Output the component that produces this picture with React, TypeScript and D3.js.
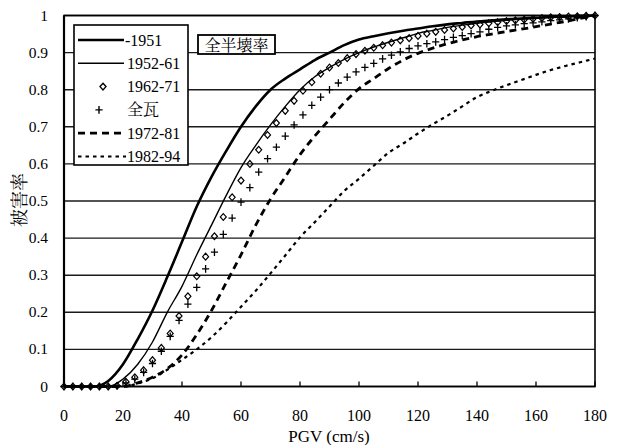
import React from "react";
import * as d3 from "d3";

// PGV sample grids (cm/s)
const pgvLine = d3.range(0, 181, 5);
const pgvMark = d3.range(0, 181, 3);

// damage ratio
const s1951 = [0, 0, 0, 0.015, 0.06, 0.128, 0.205, 0.295, 0.39, 0.485, 0.565, 0.635, 0.7, 0.755, 0.8, 0.83, 0.855, 0.88, 0.9, 0.92, 0.935, 0.944, 0.952, 0.959, 0.965, 0.971, 0.976, 0.98, 0.984, 0.987, 0.99, 0.992, 0.994, 0.996, 0.997, 0.999, 1];
const s1952 = [0, 0, 0, 0, 0.02, 0.06, 0.12, 0.2, 0.27, 0.355, 0.435, 0.515, 0.59, 0.65, 0.705, 0.755, 0.8, 0.835, 0.86, 0.882, 0.9, 0.915, 0.928, 0.94, 0.952, 0.96, 0.968, 0.974, 0.979, 0.983, 0.987, 0.99, 0.993, 0.995, 0.997, 0.999, 1];
const s1972 = [0, 0, 0, 0, 0, 0.01, 0.025, 0.048, 0.085, 0.14, 0.205, 0.28, 0.355, 0.435, 0.505, 0.565, 0.625, 0.675, 0.72, 0.765, 0.803, 0.83, 0.857, 0.88, 0.898, 0.912, 0.924, 0.934, 0.943, 0.95, 0.957, 0.963, 0.97, 0.977, 0.984, 0.992, 1];
const s1982 = [0, 0, 0, 0, 0, 0.008, 0.022, 0.045, 0.072, 0.1, 0.133, 0.172, 0.215, 0.258, 0.305, 0.353, 0.402, 0.443, 0.485, 0.527, 0.56, 0.595, 0.63, 0.655, 0.682, 0.707, 0.73, 0.755, 0.78, 0.797, 0.812, 0.826, 0.84, 0.853, 0.864, 0.874, 0.884];
const s1962 = [0, 0, 0, 0, 0, 0, 0.002, 0.013, 0.025, 0.044, 0.071, 0.104, 0.143, 0.19, 0.243, 0.297, 0.35, 0.405, 0.457, 0.51, 0.555, 0.6, 0.638, 0.678, 0.71, 0.743, 0.77, 0.797, 0.82, 0.843, 0.86, 0.872, 0.885, 0.896, 0.905, 0.913, 0.92, 0.927, 0.933, 0.939, 0.945, 0.951, 0.956, 0.961, 0.965, 0.969, 0.973, 0.976, 0.979, 0.982, 0.985, 0.987, 0.989, 0.991, 0.993, 0.995, 0.996, 0.997, 0.998, 0.999, 1];
const sAll = [0, 0, 0, 0, 0, 0, 0.002, 0.01, 0.02, 0.038, 0.062, 0.095, 0.135, 0.178, 0.222, 0.267, 0.317, 0.362, 0.41, 0.454, 0.497, 0.536, 0.578, 0.614, 0.645, 0.675, 0.705, 0.732, 0.758, 0.78, 0.8, 0.818, 0.834, 0.848, 0.86, 0.871, 0.883, 0.893, 0.902, 0.911, 0.918, 0.924, 0.929, 0.935, 0.941, 0.946, 0.951, 0.956, 0.963, 0.968, 0.972, 0.975, 0.978, 0.98, 0.983, 0.986, 0.988, 0.991, 0.994, 0.997, 1];

const xTicks = d3.range(0, 181, 20);
const yTicks = d3.range(0, 1.01, 0.1);
const legendLabels = ["-1951", "1952-61", "1962-71", "全瓦", "1972-81", "1982-94"];

const latin = { fontFamily: "\"Liberation Serif\"" };
const cjk = { fontFamily: "\"Noto Serif CJK JP\"" };

export default function App() {
  const W = 620, H = 445;
  const x = d3.scaleLinear().domain([0, 180]).range([64, 595]);
  const y = d3.scaleLinear().domain([0, 1]).range([386.5, 15.5]);

  const line = d3.line<number>()
    .x((_, i) => x(pgvLine[i]))
    .y(d => y(d))
    .curve(d3.curveMonotoneX);

  const lines = [
    { data: s1951, w: 2.6, dash: "" },
    { data: s1952, w: 1.4, dash: "" },
    { data: s1972, w: 2.8, dash: "7 5" },
    { data: s1982, w: 2.2, dash: "3.5 4" },
  ];

  const diamond = "M0,-3.4L3,0L0,3.4L-3,0Z";
  const plus = "M-3.6,0H3.6M0,-3.8V3.8";

  // legend: sample per row
  const legendRows = [
    { kind: "line", w: 2.6, dash: "" },
    { kind: "line", w: 1.4, dash: "" },
    { kind: "diamond" },
    { kind: "plus" },
    { kind: "line", w: 2.8, dash: "7 5" },
    { kind: "line", w: 2.2, dash: "3.5 4" },
  ];

  return (
    <svg width={W} height={H} style={{ position: "absolute", left: 0, top: 0, background: "#fff" }}>
      {/* grid */}
      {yTicks.map(t => (
        <line key={"g" + t} x1={x(0)} x2={x(180)} y1={y(t)} y2={y(t)} stroke="#1a1a1a" strokeWidth={1.4} />
      ))}
      {/* curves */}
      {lines.map((l, i) => (
        <path key={"l" + i} d={line(l.data) || ""} fill="none" stroke="#000"
          strokeWidth={l.w} strokeDasharray={l.dash || undefined} />
      ))}
      {s1962.map((v, i) => (
        <path key={"d" + i} d={diamond} transform={`translate(${x(pgvMark[i])},${y(v)})`}
          fill="none" stroke="#000" strokeWidth={1.2} />
      ))}
      {sAll.map((v, i) => (
        <path key={"p" + i} d={plus} transform={`translate(${x(pgvMark[i])},${y(v)})`}
          fill="none" stroke="#000" strokeWidth={1.3} />
      ))}
      {/* frame */}
      <rect x={x(0)} y={y(1)} width={x(180) - x(0)} height={y(0) - y(1)} fill="none" stroke="#000" strokeWidth={1.6} />
      <line x1={x(0)} x2={x(0)} y1={y(1)} y2={y(0)} stroke="#000" strokeWidth={2.2} />
      {xTicks.map(t => (
        <line key={"xt" + t} x1={x(t)} x2={x(t)} y1={y(0)} y2={y(0) - 5} stroke="#000" strokeWidth={1.3} />
      ))}
      {/* tick labels */}
      {xTicks.map(t => (
        <text key={"xl" + t} x={x(t)} y={421} textAnchor="middle" fontSize={16} style={latin}>{t}</text>
      ))}
      {yTicks.map(t => (
        <text key={"yl" + t} x={48} y={y(t) + 5} textAnchor="end" fontSize={15.5} style={latin}>
          {t === 0 ? "0" : t > 0.99 ? "1" : d3.format(".1f")(t)}
        </text>
      ))}
      <text x={329} y={442} textAnchor="middle" fontSize={17} style={latin}>PGV (cm/s)</text>
      <text transform="translate(26,200) rotate(-90)" textAnchor="middle" fontSize={18} style={cjk}>被害率</text>

      {/* legend */}
      <rect x={74} y={25} width={114} height={140} fill="#fff" stroke="#000" strokeWidth={1.6} />
      {legendRows.map((r, i) => {
        const cy = 40 + i * 23.3;
        return (
          <g key={"lg" + i}>
            {r.kind === "line" && (
              <line x1={78} x2={r.dash === "3.5 4" ? 126 : 124} y1={cy} y2={cy} stroke="#000"
                strokeWidth={r.w} strokeDasharray={r.dash || undefined} />
            )}
            {r.kind === "diamond" && (
              <path d={diamond} transform={`translate(103,${cy})`} fill="none" stroke="#000" strokeWidth={1.4} />
            )}
            {r.kind === "plus" && (
              <path d={plus} transform={`translate(99,${cy})`} fill="none" stroke="#000" strokeWidth={1.4} />
            )}
            <text x={i === 0 ? 125 : 127} y={cy + 5.5} fontSize={16} style={i === 3 ? cjk : latin}>{legendLabels[i]}</text>
          </g>
        );
      })}

      {/* title box */}
      <rect x={198} y={35} width={77} height={19} fill="#fff" stroke="#000" strokeWidth={1.8} />
      <text x={236.5} y={50.5} textAnchor="middle" fontSize={16} style={cjk}>全半壊率</text>
    </svg>
  );
}
